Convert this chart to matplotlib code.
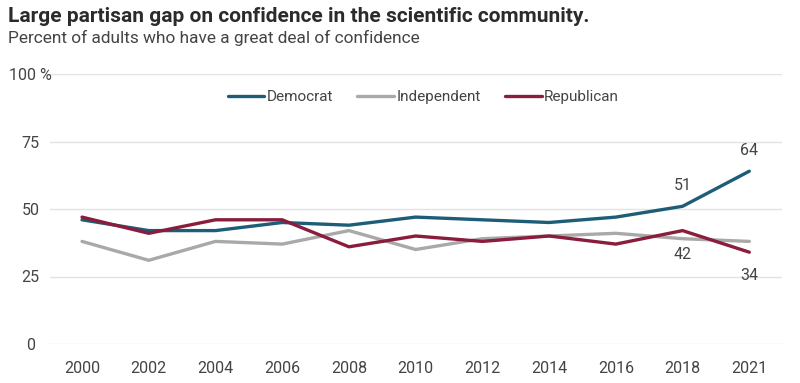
import matplotlib.pyplot as plt
import numpy as np

plt.rcParams['font.family'] = ['Roboto', 'DejaVu Sans']

years = ['2000', '2002', '2004', '2006', '2008', '2010', '2012', '2014', '2016', '2018', '2021']
democrat = [46, 42, 42, 45, 44, 47, 46, 45, 47, 51, 64]
independent = [38, 31, 38, 37, 42, 35, 39, 40, 41, 39, 38]
republican = [47, 41, 46, 46, 36, 40, 38, 40, 37, 42, 34]

blue = '#1d5d78'
grey = '#a9a9a9'
red = '#8a1c3c'
txt = '#444444'

fig = plt.figure(figsize=(8, 3.83), dpi=100)
ax = fig.add_axes([50 / 800, 1 - 344 / 383, 732 / 800, 270 / 383])

x = np.arange(len(years))
ax.plot(x, democrat, color=blue, lw=2.4, label='Democrat', solid_capstyle='round')
ax.plot(x, independent, color=grey, lw=2.4, label='Independent', solid_capstyle='round')
ax.plot(x, republican, color=red, lw=2.4, label='Republican', solid_capstyle='round')

ax.set_xlim(-0.48, 10.49)
ax.set_ylim(0, 100)
ax.set_yticks([0, 25, 50, 75, 100])
ax.set_yticklabels(['0', '25', '50', '75', '100 %'])
ax.set_xticks(x)
ax.set_xticklabels(years)
ax.grid(axis='y', color='#e3e3e3', lw=1)
ax.set_axisbelow(True)
for s in ax.spines.values():
    s.set_visible(False)
ax.tick_params(length=0, labelsize=11.5, colors=txt)
ax.tick_params(axis='x', pad=12)
ax.tick_params(axis='y', pad=14)
for lab in ax.get_yticklabels():
    lab.set_horizontalalignment('center')

# end labels
ax.annotate(str(democrat[9]), (9, democrat[9]), xytext=(0, 15), textcoords='offset points',
            ha='center', va='center', fontsize=11.5, color=txt)
ax.annotate(str(democrat[10]), (10, democrat[10]), xytext=(0, 15), textcoords='offset points',
            ha='center', va='center', fontsize=11.5, color=txt)
ax.annotate(str(republican[9]), (9, republican[9]), xytext=(0, -17), textcoords='offset points',
            ha='center', va='center', fontsize=11.5, color=txt)
ax.annotate(str(republican[10]), (10, republican[10]), xytext=(0, -17), textcoords='offset points',
            ha='center', va='center', fontsize=11.5, color=txt)

leg = ax.legend(loc='center', bbox_to_anchor=(0.51, 0.915), ncol=3, frameon=False,
                fontsize=11, handlelength=2.4, handletextpad=0.15, columnspacing=1.6)
for t in leg.get_texts():
    t.set_color(txt)

fig.text(8 / 800, 1 - 16 / 383, 'Large partisan gap on confidence in the scientific community.',
         fontsize=15, fontweight='bold', color='#2b2b2b', va='center', ha='left')
fig.text(8 / 800, 1 - 38 / 383, 'Percent of adults who have a great deal of confidence',
         fontsize=12.4, color=txt, va='center', ha='left')

fig.savefig('out.png', dpi=100)
